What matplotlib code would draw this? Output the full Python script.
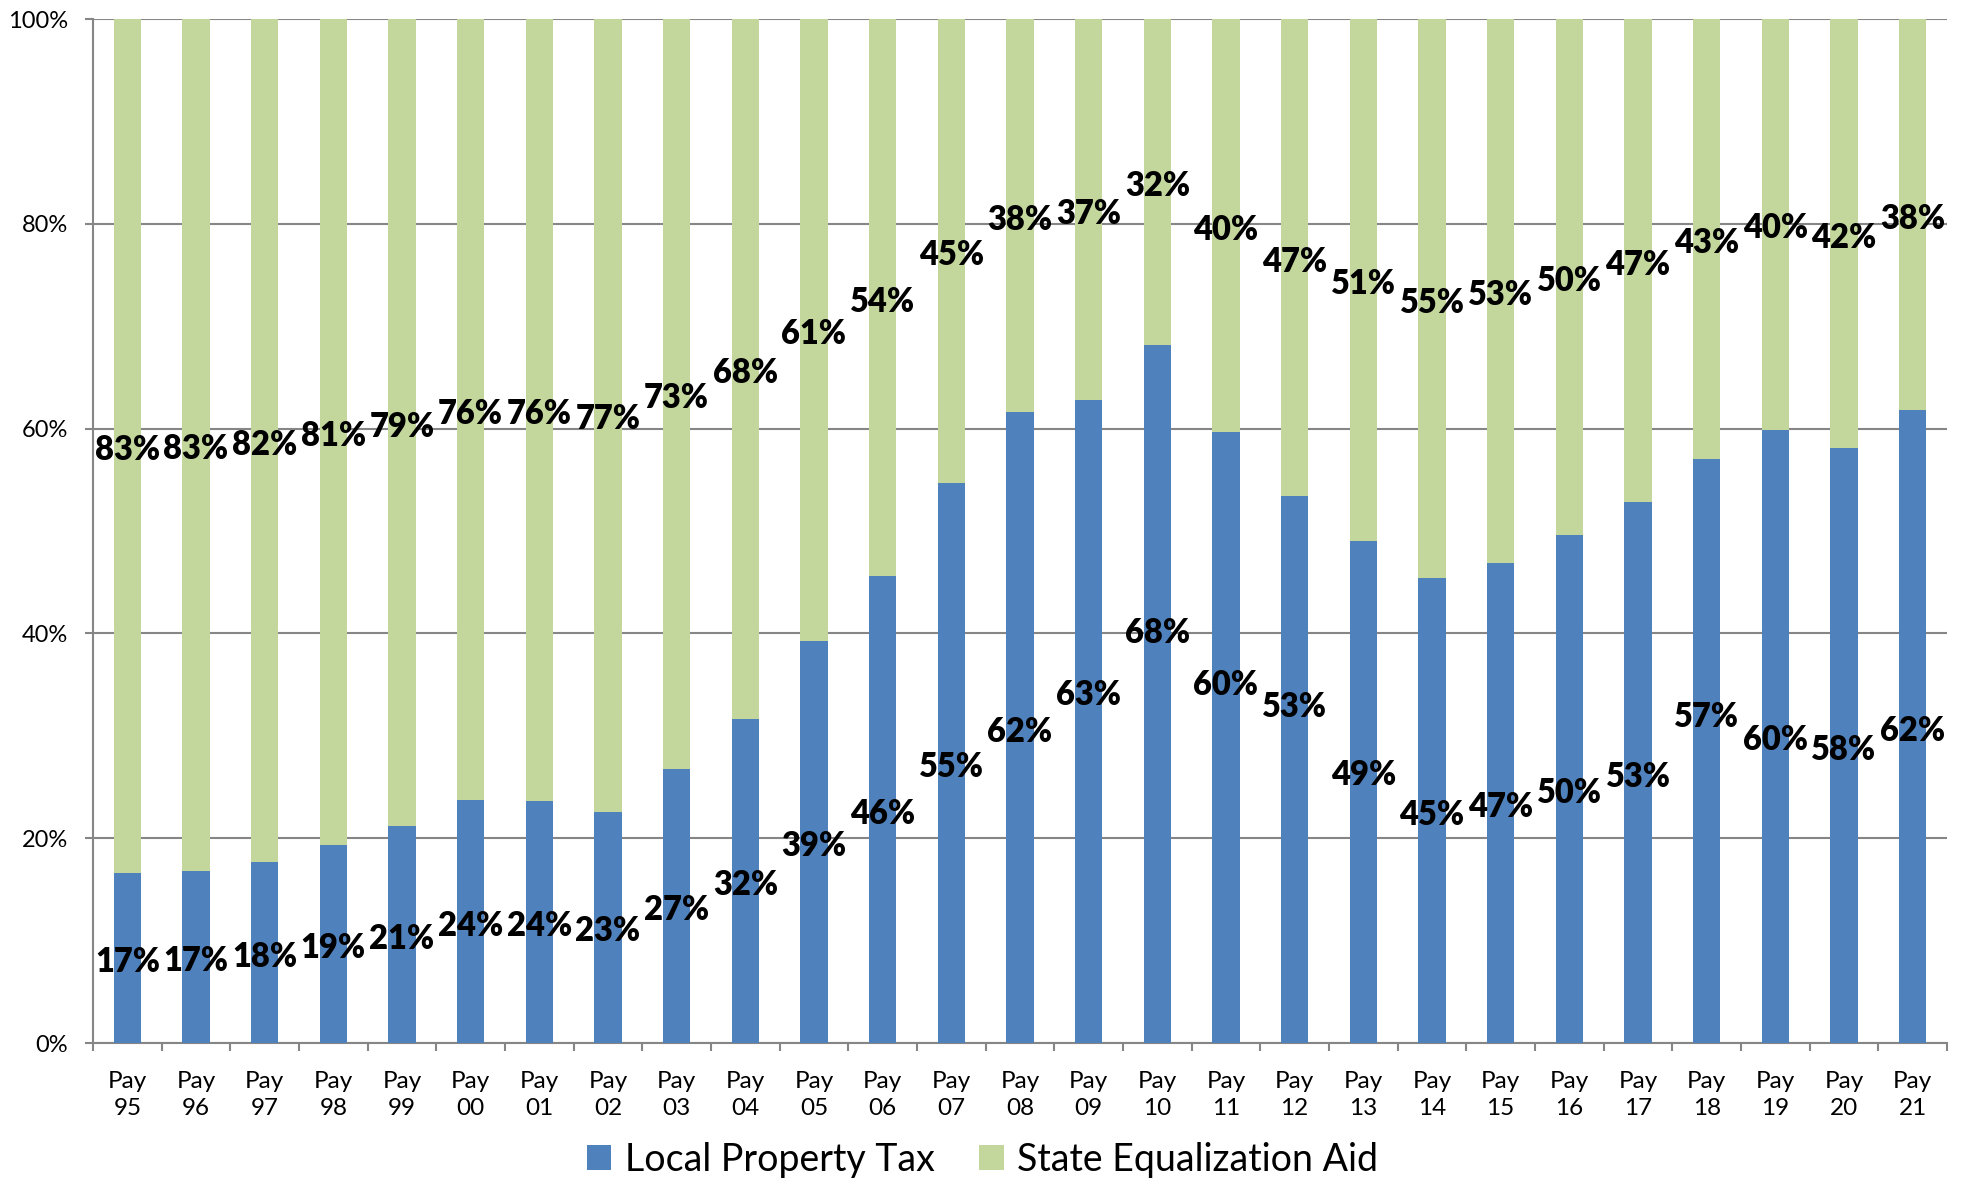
import numpy as np
import matplotlib
matplotlib.use("Agg")
import matplotlib.pyplot as plt

plt.rcParams['font.family'] = ['Lato', 'DejaVu Sans']

# 데이터 (그림에서 읽은 값, %)
years = ['95', '96', '97', '98', '99', '00', '01', '02', '03', '04', '05', '06', '07', '08',
         '09', '10', '11', '12', '13', '14', '15', '16', '17', '18', '19', '20', '21']
local_tax = [16.6, 16.8, 17.7, 19.3, 21.2, 23.7, 23.6, 22.6, 26.8, 31.6, 39.3, 45.6, 54.7, 61.6,
             62.8, 68.2, 59.7, 53.4, 49.0, 45.4, 46.9, 49.6, 52.8, 57.0, 59.9, 58.1, 61.8]
state_aid = [83.4, 83.2, 82.3, 80.7, 78.8, 76.3, 76.4, 77.4, 73.2, 68.4, 60.7, 54.4, 45.3, 38.4,
             37.2, 31.8, 40.3, 46.6, 51.0, 54.6, 53.1, 50.4, 47.2, 43.0, 40.1, 41.9, 38.2]

# 일부 파란 라벨은 원본에서 위로 옮겨져 있음 (퍼센트 포인트)
blue_label_lift = [0, 0, 0, 0, 0, 0, 0, 0, 0, 0, 0, 0, 0, 0,
                   3.0, 6.3, 5.5, 6.5, 2.1, 0, 0, 0, 0, 3.7, 0, 0, 0]

BLUE = '#4F81BD'
GREEN = '#C3D69B'
GRID = '#868686'

fig = plt.figure(figsize=(19.65, 11.81), dpi=100)
ax = fig.add_axes([93 / 1965, 1 - 1043 / 1181, (1947 - 93) / 1965, (1043 - 19) / 1181])

x = np.arange(len(years))
local = np.array(local_tax)
state = np.array(state_aid)

ax.bar(x, local, width=0.4, color=BLUE, label='Local Property Tax', zorder=3)
ax.bar(x, state, width=0.4, bottom=local, color=GREEN, label='State Equalization Aid', zorder=3)

# 값 라벨 (세그먼트 중앙)
label_kw = dict(textcoords='offset points', xytext=(0, -3), ha='center', va='center',
                fontsize=23.5, fontweight='heavy', zorder=5)
for i in range(len(x)):
    ax.annotate(f'{local[i]:.0f}%', (x[i], local[i] / 2 + blue_label_lift[i]), **label_kw)
    ax.annotate(f'{state[i]:.0f}%', (x[i], local[i] + state[i] / 2), **label_kw)

ax.set_xlim(-0.5, len(x) - 0.5)
ax.set_ylim(0, 100)
ax.set_yticks(np.arange(0, 101, 20))
ax.set_yticklabels([f'{v}%' for v in range(0, 101, 20)], fontsize=17)
ax.yaxis.grid(True, color=GRID, linewidth=1.5, zorder=0)
ax.set_axisbelow(True)

# x축: 라벨은 막대 중앙, 눈금은 경계
ax.set_xticks(x)
ax.set_xticklabels([f'Pay\n{y}' for y in years], fontsize=17.5, linespacing=1.35)
ax.set_xticks(np.arange(-0.5, len(x), 1), minor=True)
ax.tick_params(axis='x', which='major', length=0, pad=20)
ax.tick_params(axis='x', which='minor', length=6, width=1.5, color=GRID, direction='out')
ax.tick_params(axis='y', length=6, width=1.5, color=GRID, pad=12)

for side in ['top', 'right']:
    ax.spines[side].set_visible(False)
for side in ['left', 'bottom']:
    ax.spines[side].set_color(GRID)
    ax.spines[side].set_linewidth(1.5)

fig.legend(loc='center', bbox_to_anchor=(0.5, 1 - 1160 / 1181), ncol=2, frameon=False,
           fontsize=27, handlelength=0.65, handleheight=0.65, handletextpad=0.35,
           columnspacing=1.2)

fig.savefig('out.png', dpi=100)
